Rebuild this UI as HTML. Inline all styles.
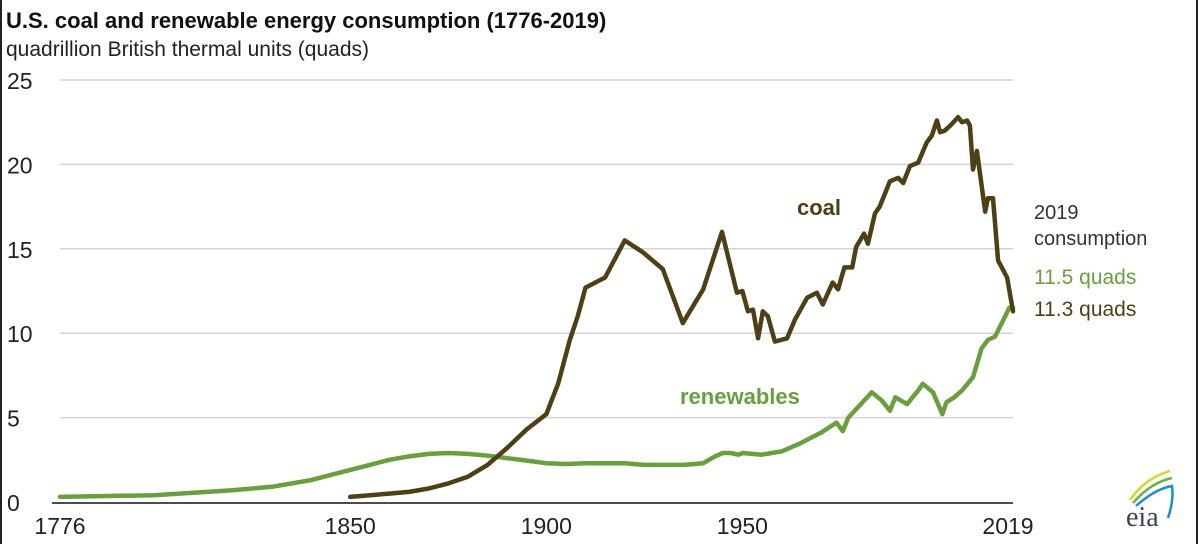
<!DOCTYPE html>
<html><head><meta charset="utf-8">
<style>
html,body{margin:0;padding:0;background:#fff;}
svg{display:block;font-family:"Liberation Sans",Arial,sans-serif;}
</style></head>
<body>
<svg id="chart" width="1200" height="544" viewBox="0 0 1200 544">
<text x="6" y="28" font-size="22" font-weight="bold" fill="#111">U.S. coal and renewable energy consumption (1776-2019)</text>
<text x="6" y="56" font-size="21" fill="#222">quadrillion British thermal units (quads)</text>
<line x1="1197" y1="0" x2="1197" y2="544" stroke="#222" stroke-width="2"/>
<line x1="1" y1="0" x2="1" y2="544" stroke="#222" stroke-width="2"/>
<g id="grid"></g>
<g id="axes"></g>
<g id="series"></g>
<text x="797" y="215" font-size="22" font-weight="bold" fill="#4e3f16">coal</text>
<text x="680" y="404" font-size="22" font-weight="bold" fill="#6a9f3f">renewables</text>
<text x="1034" y="219" font-size="20" fill="#333">2019</text>
<text x="1034" y="245" font-size="20" fill="#333">consumption</text>
<text x="1034" y="284" font-size="21" fill="#6a9f3f">11.5 quads</text>
<text x="1034" y="316" font-size="21" fill="#4e3f16">11.3 quads</text>
<g>
<path d="M1130 500 Q1145 478 1170 471" stroke="#d4d62a" stroke-width="2.5" fill="none"/>
<path d="M1133 503 Q1150 483 1172 478" stroke="#6ab04c" stroke-width="2.5" fill="none"/>
<path d="M1136 506 Q1155 489 1172 486 Q1174 500 1168 518" stroke="#1d8fc9" stroke-width="2.5" fill="none"/>
<text x="1126" y="526" font-family="Liberation Serif,serif" font-size="28" fill="#3a4452">eia</text>
</g>
</svg>
<script>
const coalYears=[1850,1855,1860,1865,1870,1875,1880,1885,1890,1895,1900,1903,1906,1908,1910,1915,1920,1924.6,1929.7,1934.8,1940,1944.8,1948.6,1950,1951.4,1952.7,1954,1955.2,1956.5,1958.3,1961.4,1963.4,1966.5,1969,1970.5,1973,1974.4,1976,1978,1979,1981,1982,1983.8,1985,1987.6,1989.7,1991,1992.7,1994.8,1997,1998.3,1999.6,2000.4,2001.6,2003,2005,2006,2007.3,2008,2008.8,2009.8,2011.9,2012.6,2013.9,2015.2,2017.5,2019];
const coalValues=[0.3,0.4,0.5,0.6,0.8,1.1,1.5,2.2,3.2,4.3,5.2,7.0,9.6,11.0,12.7,13.3,15.5,14.8,13.8,10.6,12.6,16.0,12.4,12.5,11.3,11.4,9.7,11.3,11.0,9.5,9.7,10.8,12.1,12.4,11.7,13.0,12.6,13.9,13.9,15.1,15.9,15.3,17.1,17.5,19.0,19.2,18.9,19.9,20.1,21.3,21.7,22.6,21.9,22.0,22.3,22.8,22.5,22.6,22.3,19.7,20.8,17.2,18.0,18.0,14.3,13.3,11.3];
const renYears=[1776,1800,1820,1830,1840,1850,1855,1860,1865,1870,1875,1880,1885,1890,1895,1900,1905,1910,1920,1925,1935,1940,1943,1945,1947,1949,1950,1955,1960,1965,1970,1972,1974,1975.6,1977,1983,1985.6,1987.6,1989,1992,1994.8,1996,1998.6,2001,2002,2004,2006,2008.8,2011,2012.6,2014.4,2017,2018,2019];
const renValues=[0.3,0.4,0.7,0.9,1.3,1.9,2.2,2.5,2.7,2.85,2.9,2.85,2.75,2.6,2.45,2.3,2.25,2.3,2.3,2.2,2.2,2.3,2.7,2.9,2.9,2.8,2.9,2.8,3.0,3.5,4.1,4.4,4.7,4.2,5.0,6.5,6.0,5.4,6.2,5.8,6.6,7.0,6.5,5.2,5.9,6.2,6.6,7.4,9.1,9.6,9.8,11.0,11.5,11.5];
const yTicks=[0,5,10,15,20,25];
const xTicks=[1776,1850,1900,1950,2019];

const NS="http://www.w3.org/2000/svg";
const X0=60,X1=1013,Y0=502,Y25=80;
function xs(y){return X0+(y-1776)*(X1-X0)/(2019-1776);}
function ys(v){return Y0-v*(Y0-Y25)/25;}
function mk(tag,attrs,parent){const e=document.createElementNS(NS,tag);for(const k in attrs)e.setAttribute(k,attrs[k]);parent.appendChild(e);return e;}
const grid=document.getElementById('grid'),axes=document.getElementById('axes'),series=document.getElementById('series');
yTicks.forEach(v=>{
  if(v>0){const l=mk('line',{x1:X0,x2:X1,y1:ys(v),y2:ys(v),stroke:'#d4d4d4','stroke-width':1.5},grid);
  
  }
  const t=mk('text',{x:7,y:ys(v)+9,'font-size':23,fill:'#222'},axes);t.textContent=v;
  
  
});
const base=mk('line',{x1:X0-8,x2:X1,y1:Y0+1,y2:Y0+1,stroke:'#111','stroke-width':1.5},axes);


xTicks.forEach(yr=>{
  let cx=xs(yr);if(yr===2019)cx-=5;
  const t=mk('text',{x:cx,y:Y0+32,'font-size':23,fill:'#222','text-anchor':'middle'},axes);t.textContent=yr;
  
  
});
function line(xsArr,vals,color,name){
  const d=xsArr.map((y,i)=>(i?'L':'M')+xs(y).toFixed(1)+' '+ys(vals[i]).toFixed(1)).join(' ');
  const p=mk('path',{d:d,fill:'none',stroke:color,'stroke-width':4.5,'stroke-linejoin':'round','stroke-linecap':'round'},series);
  
  
}
line(renYears,renValues,'#6a9f3f','renewables-line');
line(coalYears,coalValues,'#4e3f16','coal-line');
</script>
</body></html>
